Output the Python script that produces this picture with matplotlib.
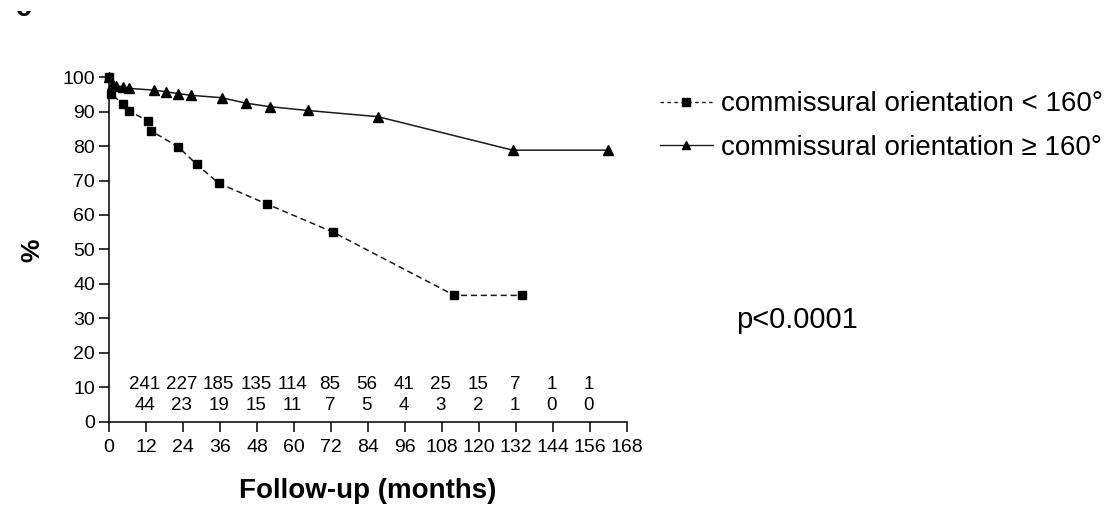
import matplotlib
matplotlib.use("Agg")
import matplotlib.pyplot as plt
from matplotlib.lines import Line2D
from matplotlib.patches import Rectangle

plt.rcParams['font.family'] = ['Liberation Sans', 'DejaVu Sans']

# Series: commissural orientation < 160 deg (squares, dashed)
lt_months = [0, 0.8, 4.4, 6.6, 12.6, 13.6, 22.4, 28.4, 35.6, 51.4, 72.5, 112, 134]
lt_pct = [100, 95, 92.3, 90.2, 87.2, 84.4, 79.8, 74.7, 69.2, 63.1, 55.1, 36.7, 36.7]

# Series: commissural orientation >= 160 deg (triangles, solid)
ge_months = [0, 1.1, 2.4, 4.5, 6.6, 14.6, 18.6, 22.5, 26.6, 36.5, 44.5, 52.2, 64.4, 87.2, 130.9, 161.8]
ge_pct = [100, 97.7, 97.4, 97.2, 96.7, 96.2, 95.7, 95.2, 94.7, 94.0, 92.4, 91.4, 90.3, 88.5, 78.8, 78.8]

# Numbers at risk
risk_months = [12, 24, 36, 48, 60, 72, 84, 96, 108, 120, 132, 144, 156]
risk_ge = ["241", "227", "185", "135", "114", "85", "56", "41", "25", "15", "7", "1", "1"]
risk_lt = ["44", "23", "19", "15", "11", "7", "5", "4", "3", "2", "1", "0", "0"]

x_ticks = list(range(0, 169, 12))
y_ticks = list(range(0, 101, 10))

labels = ["commissural orientation < 160°", "commissural orientation ≥ 160°"]

fig = plt.figure(figsize=(11.1, 5.05), dpi=100)
ax = fig.add_axes([0.0982, 0.1644, 0.4667, 0.6831])

col = '#1a1a1a'
ax.plot(ge_months, ge_pct, color=col, lw=1.1, ls='-', marker='^', ms=6.5,
        mfc='black', mec='black', zorder=3, clip_on=False)
ax.plot(lt_months, lt_pct, color=col, lw=1.1, ls=(0, (4, 2.5)), marker='s', ms=6,
        mfc='black', mec='black', zorder=4, clip_on=False)

ax.set_xlim(0, 168)
ax.set_ylim(0, 100)
ax.set_xticks(x_ticks)
ax.set_yticks(y_ticks)
ax.tick_params(axis='both', direction='out', length=7, width=1.1, labelsize=14,
               colors='black')
ax.tick_params(axis='x', pad=5)
ax.tick_params(axis='y', pad=3)
for s in ['top', 'right']:
    ax.spines[s].set_visible(False)
for s in ['left', 'bottom']:
    ax.spines[s].set_linewidth(1.1)
    ax.spines[s].set_color('black')

for m, a, b in zip(risk_months, risk_ge, risk_lt):
    ax.text(m - 0.4, 11.0, a, ha='center', va='center', fontsize=13.5)
    ax.text(m - 0.4, 4.8, b, ha='center', va='center', fontsize=13.5)

ax.set_xlabel("Follow-up (months)", fontsize=20, fontweight='bold', labelpad=16)
fig.text(32 / 1110, (505 - 250) / 505, "%", rotation=90, fontsize=19,
         fontweight='bold', ha='center', va='center')

# legend
h1 = Line2D([], [], color=col, lw=1.0, ls=(0, (2.5, 2.5)), marker='s', ms=5.5, mfc='black', mec='black')
h2 = Line2D([], [], color=col, lw=1.0, ls='-', marker='^', ms=5.5, mfc='black', mec='black')
leg = fig.legend([h1, h2], labels, loc='center left',
                 bbox_to_anchor=(660 / 1110, (505 - 126) / 505), frameon=False,
                 fontsize=20, handlelength=1.9, handletextpad=0.3, labelspacing=0.63,
                 borderaxespad=0, borderpad=0)

fig.text(736 / 1110, (505 - 320) / 505, "p<0.0001", fontsize=21, ha='left', va='center')

# panel letter, cropped at the top edge as in the source image
t = fig.text(16 / 1110, 1 - 15.5 / 505, "c", fontsize=20, fontweight='bold',
             ha='left', va='baseline')
clip = Rectangle((0, 0), 1, 1 - 11 / 505, transform=fig.transFigure, visible=False)
fig.add_artist(clip)
t.set_clip_path(clip)

fig.savefig("out.png", dpi=100)
